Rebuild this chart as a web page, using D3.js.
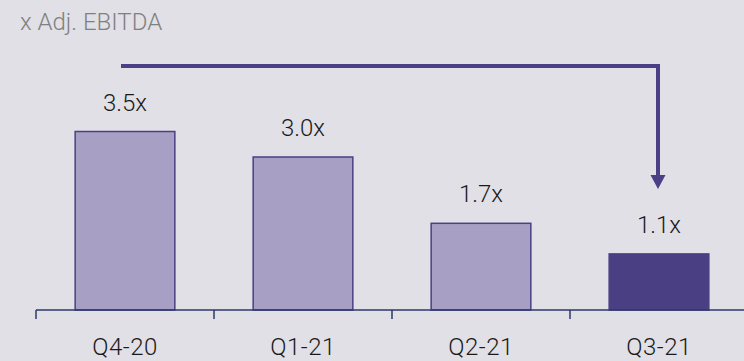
<!DOCTYPE html>
<html>
<head>
<meta charset="utf-8">
<script src="https://cdn.jsdelivr.net/npm/d3@7"></script>
<style>
  html, body { margin: 0; padding: 0; background: #e1e0e6; }
  svg { display: block; }
  text { font-family: Roboto, "Open Sans", sans-serif; }
</style>
</head>
<body>
<svg id="chart" width="744" height="361"></svg>
<script>
// Leverage by quarter (x Adj. EBITDA)
const categories = ["Q4-20", "Q1-21", "Q2-21", "Q3-21"];
const leverage = [3.5, 3.0, 1.7, 1.1];
const valueLabels = ["3.5x", "3.0x", "1.7x", "1.1x"];
const highlighted = ["Q3-21"];
const unitLabel = "x Adj. EBITDA";

const W = 744, H = 361;
const svg = d3.select("#chart");
svg.append("rect").attr("width", W).attr("height", H).attr("fill", "#e1e0e6");

const baseY = 310;
const x = d3.scaleBand().domain(categories).range([36, 748]).padding(0);
const y = d3.scaleLinear().domain([0, 4]).range([baseY, baseY - 204]);

const barFrac = 0.56;
const barW = x.bandwidth() * barFrac;
const barX = c => x(c) + (x.bandwidth() - barW) / 2;

// Unit caption
svg.append("text")
  .attr("x", 20).attr("y", 30)
  .attr("font-size", 24)
  .attr("font-weight", 300)
  .attr("fill", "#808080")
  .text(unitLabel);

// Bars
const data = categories.map((c, i) => ({ c, v: leverage[i], label: valueLabels[i] }));
svg.selectAll("rect.bar").data(data).enter().append("rect")
  .attr("class", "bar")
  .attr("x", d => barX(d.c))
  .attr("y", d => y(d.v))
  .attr("width", barW)
  .attr("height", d => y(0) - y(d.v))
  .attr("fill", d => highlighted.includes(d.c) ? "#4b3f84" : "#a7a0c4")
  .attr("stroke", "#4b3f86")
  .attr("stroke-width", 1.5);

// Value labels
svg.selectAll("text.val").data(data).enter().append("text")
  .attr("class", "val")
  .attr("x", d => x(d.c) + x.bandwidth() / 2)
  .attr("y", d => y(d.v) - 21)
  .attr("text-anchor", "middle")
  .attr("font-size", 24)
  .attr("font-weight", 300)
  .attr("fill", "#1a1a1a")
  .text(d => d.label);

// Category axis
const axis = svg.append("g").attr("transform", `translate(0,${baseY})`)
  .call(d3.axisBottom(x).tickSize(0).tickPadding(0));
axis.select(".domain").remove();
axis.selectAll("text").remove();
axis.append("line").attr("x1", 36).attr("x2", W).attr("y1", 0).attr("y2", 0)
  .attr("stroke", "#2b3a6b").attr("stroke-width", 1.5);
categories.forEach(c => {
  axis.append("line").attr("x1", x(c)).attr("x2", x(c)).attr("y1", 0).attr("y2", 9)
    .attr("stroke", "#2b3a6b").attr("stroke-width", 1.5);
});
svg.selectAll("text.cat").data(categories).enter().append("text")
  .attr("class", "cat")
  .attr("x", c => x(c) + x.bandwidth() / 2)
  .attr("y", 355)
  .attr("text-anchor", "middle")
  .attr("font-size", 24)
  .attr("font-weight", 300)
  .attr("letter-spacing", 0.5)
  .attr("fill", "#1a1a1a")
  .text(c => c);

// Arrow from first to last quarter
const first = categories[0], last = categories[categories.length - 1];
const ax0 = x(first) + x.bandwidth() / 2 - 4;
const ax1 = x(last) + x.bandwidth() / 2 - 1;
const ay = 66;
const tipY = y(leverage[leverage.length - 1]) - 65;
svg.append("path")
  .attr("d", `M${ax0},${ay} H${ax1} V${tipY - 12}`)
  .attr("fill", "none")
  .attr("stroke", "#4b3f86")
  .attr("stroke-width", 4);
svg.append("path")
  .attr("d", `M${ax1 - 7.5},${tipY - 14} L${ax1 + 7.5},${tipY - 14} L${ax1},${tipY} Z`)
  .attr("fill", "#4b3f86");
</script>
</body>
</html>
